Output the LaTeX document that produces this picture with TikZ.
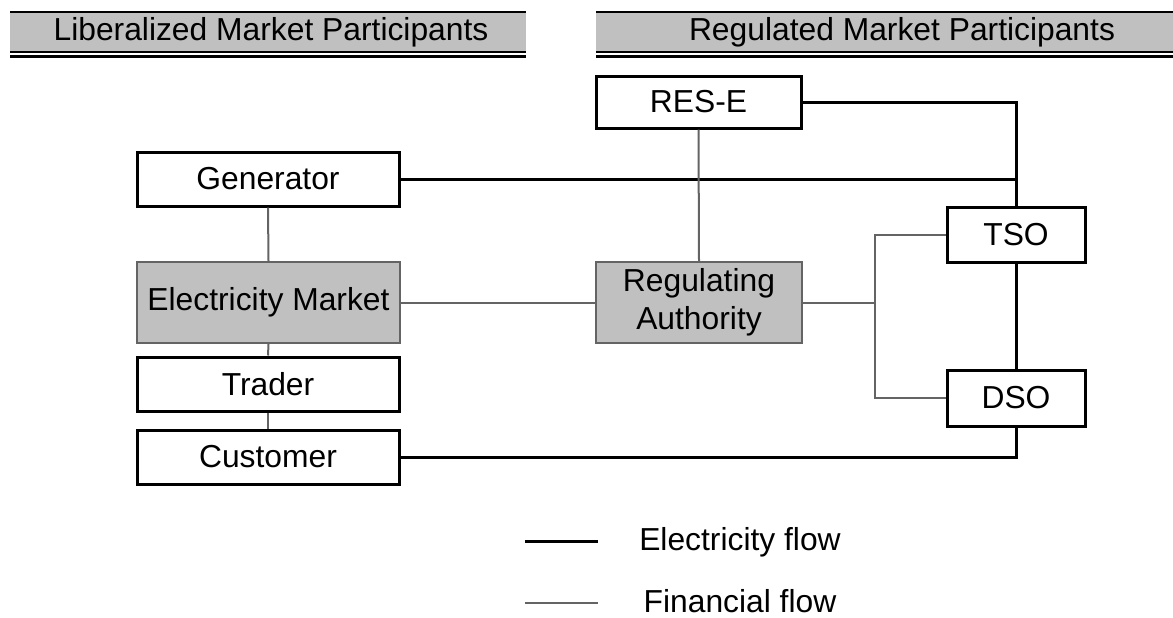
\documentclass[tikz,border=0pt]{standalone}
\usepackage{fontspec}
\setmainfont{Liberation Sans}
\definecolor{silver}{RGB}{192,192,192}
\definecolor{finflow}{RGB}{100,100,100}
\begin{document}
\begin{tikzpicture}[x=0.5pt,y=-0.5pt,
  txt/.style={font=\fontsize{15.9}{18.8}\selectfont},
  box/.style={txt,draw,line width=1.5pt,fill=white,inner sep=0pt,minimum width=131pt,minimum height=27pt},
  mbox/.style={txt,draw=finflow,line width=1pt,fill=silver,inner sep=0pt,align=center,minimum height=40.5pt},
  elec/.style={line width=1.5pt},
  fin/.style={draw=finflow,line width=1pt}]
\useasboundingbox (0,0) rectangle (1173,617);
% header bars
\foreach \xa/\xb/\xm/\name/\title in {10/526/271/hdl/Liberalized Market Participants,596/1173/902/hdr/Regulated Market Participants}{
  \fill[silver] (\xa,12) rectangle (\xb,52);
  \draw[line width=1pt] (\xa,12)--(\xb,12);
  \draw[line width=0.75pt] (\xa,52)--(\xb,52);
  \draw[line width=1.5pt] (\xa,56.5)--(\xb,56.5);
  \node[txt] (\name) at (\xm,32) {\title};
}
% participants
\node[box] (gen) at (268,179) {Generator};
\node[mbox,minimum width=131.5pt] (emkt) at (268.5,302.5) {Electricity Market};
\node[box] (trader) at (268,384) {Trader};
\node[box] (cust) at (268,457) {Customer};
\node[box,minimum width=102.5pt,minimum height=26pt] (res) at (698.5,102) {RES-E};
\node[mbox,minimum width=103pt] (reg) at (699,302.5) {Regulating\\Authority};
\node[box,minimum width=69pt,minimum height=27.5pt] (tso) at (1016,234.5) {TSO};
\node[box,minimum width=69pt,minimum height=28pt] (dso) at (1016,398) {DSO};
% electricity flow
\draw[elec] (res.east) -| (tso.north);
\draw[elec] (gen.east) -- (gen.east -| tso.north);
\draw[elec] (tso.south) -- (dso.north);
\draw[elec] (dso.south) |- (cust.east);
% financial flow
\draw[fin] (gen.south) -- (emkt.north);
\draw[fin] (emkt.south) -- (trader.north);
\draw[fin] (trader.south) -- (cust.north);
\draw[fin] (emkt.east) -- (reg.west);
\draw[fin] (res.south) -- (reg.north);
\coordinate (split) at (875,302.5);
\draw[fin] (reg.east) -- (split);
\draw[fin] (split) |- (tso.west);
\draw[fin] (split) |- (dso.west);
% legend
\coordinate (elA) at (525,541);
\coordinate (elB) at (598,541);
\draw[elec] (elA) -- (elB);
\node[txt] (elec) at (740,542) {Electricity flow};
\coordinate (fiA) at (525,603);
\coordinate (fiB) at (598,603);
\draw[fin] (fiA) -- (fiB);
\node[txt,inner sep=1pt] (fin) at (740,601) {Financial flow};
\end{tikzpicture}
\end{document}
